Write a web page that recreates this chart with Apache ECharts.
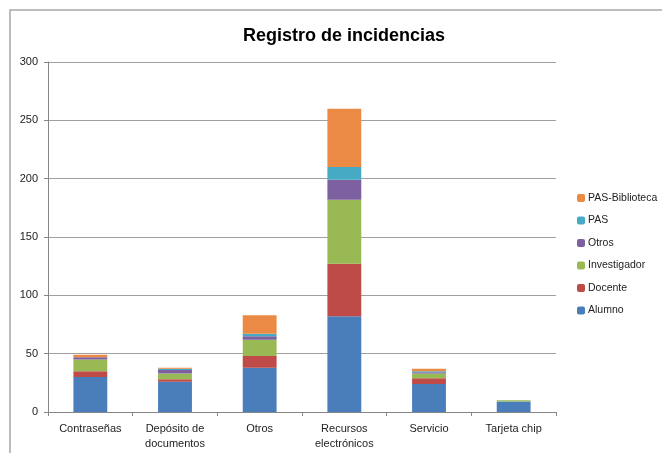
<!DOCTYPE html>
<html>
<head>
<meta charset="utf-8">
<script src="https://cdn.jsdelivr.net/npm/echarts@6/dist/echarts.min.js"></script>
<style>
  html, body { margin: 0; padding: 0; background: #fff; }
  #chart { width: 662px; height: 453px; }
</style>
</head>
<body>
<div id="chart"></div>
<script>
    var categories = ['Contraseñas', 'Depósito de\ndocumentos', 'Otros', 'Recursos\nelectrónicos', 'Servicio', 'Tarjeta chip'];
    var seriesNames = ['Alumno', 'Docente', 'Investigador', 'Otros', 'PAS', 'PAS-Biblioteca'];
    var alumno = [30, 26, 38, 82, 24, 9];
    var docente = [5, 2, 10, 45, 5, 0];
    var investigador = [10, 5, 14, 55, 4, 1];
    var otros = [2, 3, 3, 17, 1, 0];
    var pas = [0, 1, 2, 11, 1, 0];
    var pasBiblioteca = [2, 1, 16, 50, 2, 0];
    var colors = ['#4a7ebb', '#be4b48', '#98b954', '#7d60a0', '#46aac5', '#ea8a44'];

    var chart = echarts.init(document.getElementById('chart'));
    var values = [alumno, docente, investigador, otros, pas, pasBiblioteca];
    var fontFam = 'Liberation Sans';

    var series = [];
    for (var i = 0; i < seriesNames.length; i++) {
        series.push({
            name: seriesNames[i],
            type: 'bar',
            stack: 'total',
            barWidth: '40%',
            itemStyle: { color: colors[i] },
            data: values[i]
        });
    }

    var option = {
        animation: false,
        title: {
            text: 'Registro de incidencias',
            left: 339,
            top: 22,
            textAlign: 'center',
            textStyle: { fontFamily: fontFam, fontSize: 18, fontWeight: 'bold', color: '#000' }
        },
        graphic: [{
            type: 'rect',
            shape: { x: 10, y: 10, width: 700, height: 500 },
            style: { fill: 'none', stroke: '#a6a6a6', lineWidth: 1.5 }
        }],
        legend: {
            orient: 'vertical',
            left: 572,
            top: 187,
            itemWidth: 8,
            itemHeight: 8,
            itemGap: 10.5,
            data: seriesNames.slice().reverse(),
            textStyle: { fontFamily: fontFam, fontSize: 10.5, color: '#222', lineHeight: 12, padding: [0, 0, 0, -2] }
        },
        grid: { left: 48, right: 106, top: 62, bottom: 41 },
        xAxis: {
            type: 'category',
            data: categories,
            axisLine: { lineStyle: { color: '#868686' } },
            axisTick: { show: true, length: 4, lineStyle: { color: '#868686' } },
            axisLabel: { fontFamily: fontFam, fontSize: 11, color: '#222', margin: 9, lineHeight: 15 }
        },
        yAxis: {
            type: 'value',
            min: 0,
            max: 300,
            interval: 50,
            axisLine: { show: true, lineStyle: { color: '#868686' } },
            axisTick: { show: true, length: 4, lineStyle: { color: '#868686' } },
            splitLine: { lineStyle: { color: '#a0a0a0' } },
            axisLabel: { fontFamily: fontFam, fontSize: 11, color: '#222', margin: 10 }
        },
        series: series
    };
    chart.setOption(option);
</script>
</body>
</html>
